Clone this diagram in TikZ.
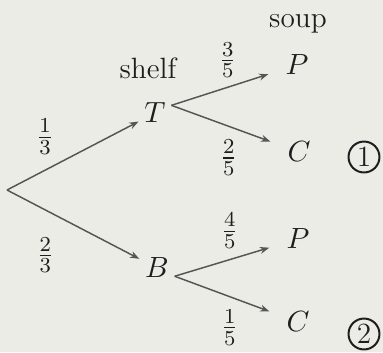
\documentclass[tikz,border=0pt]{standalone}
\usepackage{amsmath}
\usetikzlibrary{positioning,arrows.meta}
\definecolor{paper}{RGB}{236,236,231}
\definecolor{ink}{RGB}{30,30,30}
\definecolor{branch}{RGB}{85,85,85}

\begin{document}
\begin{tikzpicture}[
  x=0.375pt, y=-0.375pt,
  every node/.style={text=ink, font=\fontsize{11}{13}\selectfont},
  state/.style={inner sep=2pt},
  prob/.style={inner sep=0pt},
  arr/.style={-{Stealth[length=3.5pt,width=2.6pt]}, draw=branch, line width=0.55pt},
  leaf/.style={arr, shorten >=4.5pt},
  tag/.style={circle, draw=ink, line width=0.75pt, minimum size=11.6pt, inner sep=0pt, font=\fontsize{11}{13}\selectfont}
]
\fill[paper] (0,0) rectangle (383,352);
\useasboundingbox (0,0) rectangle (383,352);

\coordinate (root) at (7,190);
\node[state] (T) at (155,113) {$T$};
\node[state] (B) at (157,268) {$B$};
\node[state] (TP) at (297,65) {$P$};
\node[state] (TC) at (299,152) {$C$};
\node[state] (BP) at (298,239) {$P$};
\node[state] (BC) at (298,322) {$C$};
\node[anchor=base] (shelf) at (148,78) {shelf};
\node[anchor=base] (soup) at (298,27) {soup};
\node[tag] (one) at (364,157) {1};
\node[tag] (two) at (364,334) {2};

\draw[arr] (root) -- node[prob, pos=0.29, above=5.6pt] {$\frac{1}{3}$} (T);
\draw[arr] (root) -- node[prob, pos=0.29, below=10pt] {$\frac{2}{3}$} (B);
\draw[leaf] (T.25) -- node[prob, pos=0.52, above=3.3pt] {$\frac{3}{5}$} (TP);
\draw[leaf] (T.25) -- node[prob, pos=0.52, below=4.9pt] {$\frac{2}{5}$} (TC);
\draw[leaf] (B.-25) -- node[prob, pos=0.52, above=3.9pt] {$\frac{4}{5}$} (BP);
\draw[leaf] (B.-25) -- node[prob, pos=0.52, below=4.7pt] {$\frac{1}{5}$} (BC);
\end{tikzpicture}
\end{document}
